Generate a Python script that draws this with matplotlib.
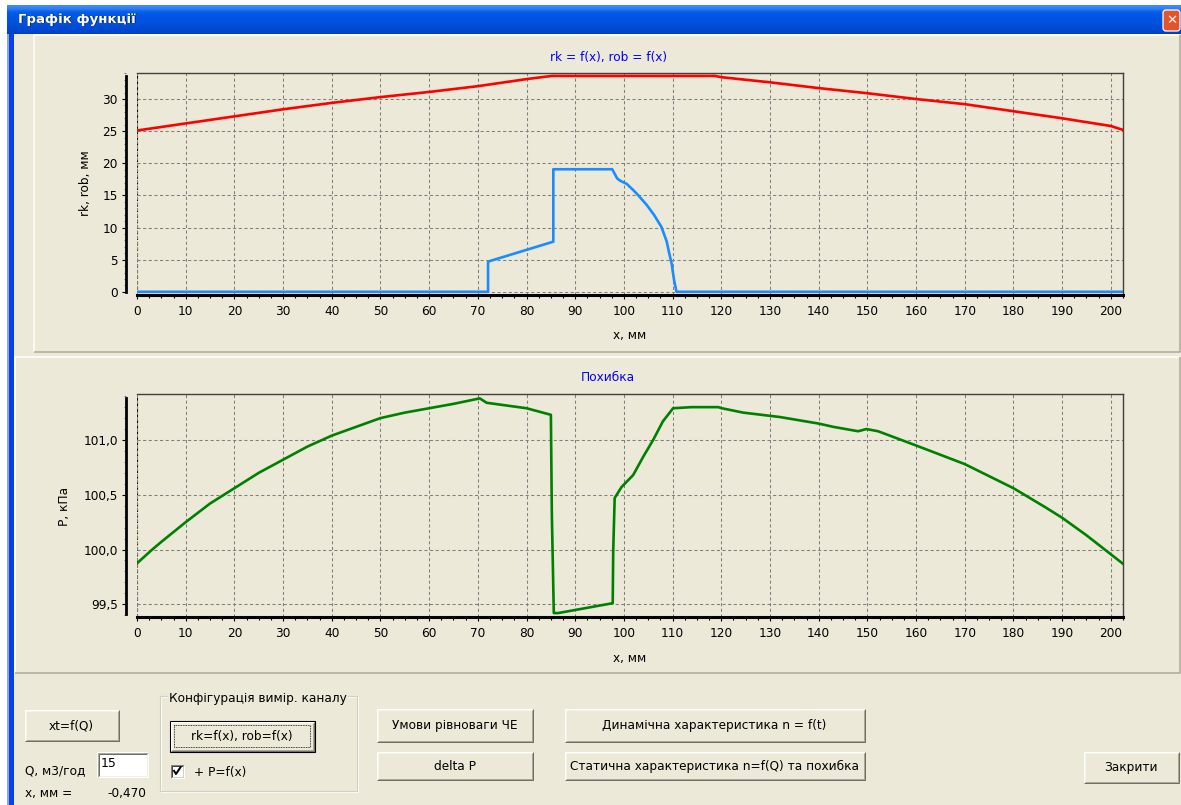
"""Dialog 'Графік функції': rk/rob profile and pressure error, XP-style window."""

import matplotlib
matplotlib.use("Agg")
import matplotlib.pyplot as plt
import numpy as np
from matplotlib.patches import Rectangle, FancyBboxPatch
from matplotlib.ticker import MultipleLocator

plt.rcParams["font.family"] = ["DejaVu Sans"]

W, H = 1181, 805
BG = "#ECE9D8"
FS = 8.7  # dialog font size

# ---- data ----
rk_x = [0, 10, 20, 30, 40, 50, 60, 70, 80, 85.2, 118.7, 120, 130, 140, 150,
        160, 170, 180, 190, 200, 202.5]
rk_y = [25.1, 26.2, 27.3, 28.4, 29.4, 30.3, 31.1, 32.0, 33.1, 33.6, 33.6,
        33.4, 32.6, 31.7, 30.9, 30.0, 29.2, 28.1, 27.0, 25.8, 25.2]

rob_x = [0, 72.1, 72.1, 85.5, 85.5, 97.6, 98.6, 99.2, 100.6, 101.9, 102.9,
         104.7, 106.2, 107.7, 108.8, 109.3, 109.8, 110.3, 110.8, 202.5]
rob_y = [0, 0, 4.7, 7.8, 19.07, 19.07, 17.66, 17.3, 16.78, 15.84, 15.06,
         13.5, 11.95, 10.1, 7.8, 6.0, 4.4, 1.8, 0, 0]

p_x = [0, 3, 5, 10, 15, 20, 25, 30, 35, 40, 45, 50, 55, 60, 65, 70.4, 71.8,
       80, 85.0, 85.2, 85.6, 86.5, 97.7, 97.8, 98.1, 99.5, 101.9, 104.0,
       106.0, 108.0, 110.1, 113.9, 119.4, 120.1, 124.5, 132.0, 140, 143,
       148.1, 149.8, 152.2, 160, 170, 180, 186.4, 190, 195, 202.5]
p_y = [99.874, 99.995, 100.07, 100.25, 100.42, 100.56, 100.70, 100.82,
       100.94, 101.04, 101.12, 101.20, 101.25, 101.29, 101.33, 101.38,
       101.34, 101.29, 101.23, 100.32, 99.42, 99.42, 99.51, 99.98, 100.47,
       100.57, 100.68, 100.85, 101.00, 101.17, 101.29, 101.30, 101.30,
       101.29, 101.25, 101.21, 101.15, 101.12, 101.08, 101.10, 101.08,
       100.95, 100.78, 100.56, 100.39, 100.29, 100.13, 99.87]

p_ticks = [99.5, 100.0, 100.5, 101.0]
p_ticklabels = ["99,5", "100,0", "100,5", "101,0"]

fig = plt.figure(figsize=(W / 100, H / 100), dpi=100)
fig.patch.set_facecolor(BG)

# ---- window chrome in pixel coordinates ----
bg = fig.add_axes([0, 0, 1, 1], zorder=-5)
bg.set_axis_off()


def px_line(xs, ys, color, lw=1.0, **kw):
    bg.plot(xs, ys, color=color, lw=lw * 0.72, solid_capstyle="butt", **kw)


def edge3d(x0, y0, x1, y1, tl, br, lw=1.0):
    px_line([x0, x0, x1], [y1, y0, y0], tl, lw)
    px_line([x0, x1, x1], [y1, y1, y0], br, lw)


def button(x0, y0, x1, y1, label, default=False):
    bg.add_patch(Rectangle((x0, y0), x1 - x0, y1 - y0, fc=BG, ec="none"))
    if default:
        bg.add_patch(Rectangle((x0 + 0.5, y0 + 0.5), x1 - x0 - 1, y1 - y0 - 1,
                               fc="none", ec="black", lw=0.8))
        x0, y0, x1, y1 = x0 + 1, y0 + 1, x1 - 1, y1 - 1
    edge3d(x0 + 0.5, y0 + 0.5, x1 - 0.5, y1 - 0.5, "white", "#716F64")
    edge3d(x0 + 1.5, y0 + 1.5, x1 - 1.5, y1 - 1.5, "#F5F4EA", "#ACA899")
    if default:
        bg.add_patch(Rectangle((x0 + 4, y0 + 4), x1 - x0 - 8, y1 - y0 - 8,
                               fc="none", ec="black", lw=0.6, ls=(0, (1, 1))))
    bg.text((x0 + x1) / 2, (y0 + y1) / 2 + 0.5, label, ha="center",
            va="center", fontsize=FS, color="black")


# outer white strip and title bar gradient
bg.add_patch(Rectangle((0, 0), W, 5, fc="white", ec="none"))
bg.add_patch(Rectangle((0, 0), 7, H, fc="white", ec="none"))
grad_cols = ["#3C8CF8", "#2F7FF5", "#0A5FE8", "#0058E6", "#0055E3",
             "#0053E0", "#0050DC", "#004CD6", "#0047CE", "#0040C2"]
rgb = np.array([matplotlib.colors.to_rgb(c) for c in grad_cols])
rows = np.linspace(0, len(grad_cols) - 1, 29)
grad = np.stack([np.interp(rows, np.arange(len(grad_cols)), rgb[:, k])
                 for k in range(3)], axis=-1)[:, None, :]
bg.imshow(grad, extent=(7, W, 34, 5), aspect="auto", interpolation="bilinear")
bg.add_patch(Rectangle((7, 34), 6.5, H - 34, fc="#0842E6", ec="none"))
bg.add_patch(Rectangle((7, 34), 2, H - 34, fc="#8CA6D8", ec="none"))
bg.text(19, 20, "Графік функції", ha="left", va="center", fontsize=9.5,
        fontweight="bold", color="#0A246A")
bg.text(18, 19, "Графік функції", ha="left", va="center", fontsize=9.5,
        fontweight="bold", color="white")
bg.add_patch(FancyBboxPatch((1163, 10), 17, 21,
                            boxstyle="round,pad=0,rounding_size=3",
                            fc="#E2542C", ec="white", lw=0.9))
bg.text(1171.5, 20.5, "✕", ha="center", va="center", fontsize=9.5,
        fontweight="bold", color="white")

# panels
edge3d(34, 35, 1179.5, 352, "white", "#ACA899", lw=1.5)
edge3d(14.5, 357, 1179.5, 673, "white", "#ACA899", lw=1.5)


# ---- charts ----
def style_axes(ax, spine_bounds):
    ax.set_facecolor("none")
    ax.grid(True, which="major", color="#808080", lw=0.75, ls=(0, (3, 2.4)))
    ax.axvline(0, color="black", lw=0.8, ls=(0, (3, 2)), zorder=1)
    ax.spines["left"].set_position(("outward", 7.9))
    ax.spines["left"].set_bounds(*spine_bounds)
    ax.spines["left"].set_linewidth(2.0)
    ax.spines["bottom"].set_linewidth(2.2)
    ax.spines["bottom"].set_color("black")
    for s in ("top", "right"):
        ax.spines[s].set_color("#404040")
        ax.spines[s].set_linewidth(1.0)
    ax.set_xlim(0, 202.5)
    ax.xaxis.set_major_locator(MultipleLocator(10))
    ax.xaxis.set_minor_locator(MultipleLocator(2.5))
    ax.tick_params(axis="both", which="major", labelsize=FS, length=3,
                   width=0.8, direction="out", pad=4.5, colors="black")
    ax.tick_params(axis="x", which="minor", length=2.5, width=0.8)
    ax.tick_params(axis="y", which="minor", length=1.5, width=0.6,
                   color="#606060")
    ax.tick_params(axis="y", which="major", pad=3)
    ax.xaxis.set_label_coords(0.478, -0.155)


ax1 = fig.add_axes([137 / W, 1 - 295 / H, 986 / W, 222 / H])
ax1.plot(rk_x, rk_y, color="#FF0000", lw=1.9, zorder=3)
ax1.plot(rob_x, rob_y, color="#1A8CFF", lw=1.9, zorder=3)
ax1.set_ylim(-0.5, 34.05)
ax1.yaxis.set_major_locator(MultipleLocator(5))
ax1.yaxis.set_minor_locator(MultipleLocator(1))
style_axes(ax1, (-0.1, 33.6))
ax1.set_xlabel("x, мм", fontsize=FS)
ax1.set_ylabel("rk, rob, мм", fontsize=FS)
ax1.yaxis.set_label_coords(-0.0456, 0.5045)
ax1.text(0.478, 1.072, "rk = f(x), rob = f(x)", transform=ax1.transAxes,
         ha="center", va="center", fontsize=FS, color="#0000FF")

ax2 = fig.add_axes([137 / W, 1 - 617 / H, 986 / W, 223 / H])
ax2.plot(p_x, p_y, color="#008000", lw=1.9, zorder=3)
ax2.set_ylim(99.384, 101.42)
ax2.set_yticks(p_ticks)
ax2.set_yticklabels(p_ticklabels)
ax2.yaxis.set_minor_locator(MultipleLocator(0.1))
style_axes(ax2, (99.41, 101.38))
ax2.set_xlabel("x, мм", fontsize=FS)
ax2.set_ylabel("P, кПа", fontsize=FS)
ax2.yaxis.set_label_coords(-0.0669, 0.498)
ax2.text(0.478, 1.072, "Похибка", transform=ax2.transAxes,
         ha="center", va="center", fontsize=FS, color="#0000FF")

# ---- controls ----
button(24, 709, 119, 741, "xt=f(Q)")
bg.text(25, 771, "Q, м3/год", ha="left", va="center", fontsize=FS)
bg.add_patch(Rectangle((97, 752), 51, 25, fc="white", ec="none"))
edge3d(97.5, 752.5, 147.5, 776.5, "#ACA899", "white")
edge3d(98.5, 753.5, 146.5, 775.5, "#716F64", "#F1EFE2")
bg.text(101, 763, "15", ha="left", va="center", fontsize=9)
bg.text(25, 793, "х, мм =", ha="left", va="center", fontsize=FS)
bg.text(146, 793, "-0,470", ha="right", va="center", fontsize=FS)

# group box
bg.add_patch(Rectangle((159.5, 695.5), 197, 95, fc="none", ec="#D0D0BF",
                       lw=0.8))
bg.add_patch(Rectangle((160.5, 696.5), 197, 95, fc="none", ec="white",
                       lw=0.6, zorder=0))
bg.text(169, 698, "Конфігурація вимір. каналу", ha="left", va="center",
        fontsize=FS, bbox=dict(fc=BG, ec="none", pad=1))
button(169, 720, 315, 752, "rk=f(x), rob=f(x)", default=True)
bg.add_patch(Rectangle((170.5, 764.5), 13, 13, fc="white", ec="none"))
edge3d(170.5, 764.5, 183.5, 777.5, "#808080", "white")
edge3d(171.5, 765.5, 182.5, 776.5, "#404040", "#D4D0C8")
px_line([173.5, 176, 181], [770, 774, 766.5], "black", lw=2)
bg.text(194, 772, "+ P=f(x)", ha="left", va="center", fontsize=FS)

button(376, 708, 533, 742, "Умови рівноваги ЧЕ")
button(376, 751, 533, 780, "delta P")
button(564, 708, 865, 742, "Динамічна характеристика n = f(t)")
button(564, 751, 865, 780, "Статична характеристика n=f(Q) та похибка")
button(1083, 751, 1179, 783, "Закрити")

bg.set_xlim(0, W)
bg.set_ylim(H, 0)

fig.savefig("out.png", dpi=100, facecolor=BG)
plt.close(fig)
